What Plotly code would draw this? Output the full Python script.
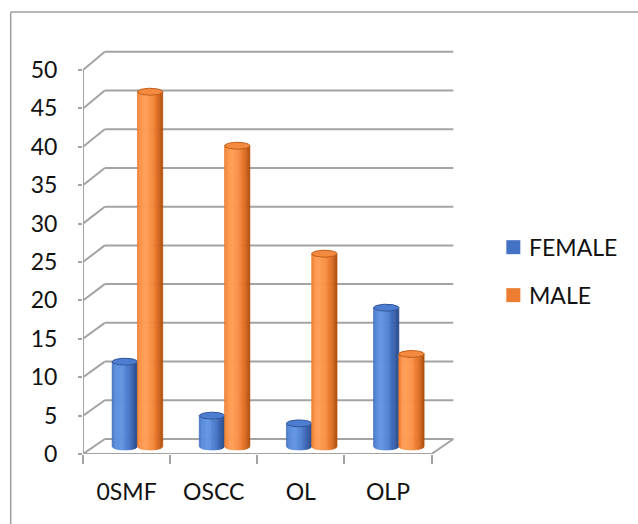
import numpy as np
import plotly.graph_objects as go

# ---- data -------------------------------------------------------------
categories = ["0SMF", "OSCC", "OL", "OLP"]
series_names = ["FEMALE", "MALE"]
female = [11, 4, 3, 18]
male = [46, 39, 25, 12]
y_ticks = list(range(0, 51, 5))

# ---- figure geometry (pixels) ------------------------------------------
W, H = 638, 524
PX_PER_CAT = 87.1          # horizontal pixels per category slot
PX_PER_UNIT = 7.686        # vertical pixels per value unit
X_MAX = 4.35
Y_MAX = 53.0
LEFT = 83.3
ZERO_PY = 454.3
PLOT_W = X_MAX * PX_PER_CAT
PLOT_H = Y_MAX * PX_PER_UNIT
TOP = ZERO_PY - PLOT_H
BOTTOM = H - ZERO_PY
RIGHT = W - LEFT - PLOT_W

# depth of the oblique box, in data units
DEPTH_X = 0.25


def depth_y(v):
    # back wall sits slightly higher for taller values (mild perspective)
    return 1.95 + 0.0086 * v


BAR_HALF = 0.145           # half width of one cylinder (category units)
CAP_RY = 0.45              # vertical radius of the elliptical ends

GRID = "#a3a3a3"
FONT = dict(family="Lato, 'Open Sans', sans-serif", size=23, color="#111111")

palette = {
    "FEMALE": dict(dark="#2a4c8c", base="#4472c4", light="#6294e2",
                   cap="#4d7dd0", rim="#2f5597"),
    "MALE": dict(dark="#b5520f", base="#ed7d31", light="#ff9d55",
                 cap="#f38a3f", rim="#c25c16"),
}


def hex2rgb(h):
    h = h.lstrip("#")
    return np.array([int(h[i:i + 2], 16) for i in (0, 2, 4)], float)


def mix(a, b, t):
    c = hex2rgb(a) * (1 - t) + hex2rgb(b) * t
    return "rgb(%d,%d,%d)" % tuple(np.round(c))


def shade(pal, u):
    # simple lambert shading of a vertical cylinder lit from front-left
    n = np.array([u, np.sqrt(max(0.0, 1 - u * u))])
    light = np.array([-0.45, 1.0])
    light /= np.linalg.norm(light)
    i = 0.3 + 0.7 * max(0.0, float(n @ light))
    if i < 0.78:
        return mix(pal["dark"], pal["base"], (i - 0.3) / 0.48)
    return mix(pal["base"], pal["light"], (i - 0.78) / 0.22)


fig = go.Figure()

N_STRIPS = 22
edges = np.linspace(-1, 1, N_STRIPS + 1)

for s_idx, (name, values) in enumerate(zip(series_names, [female, male])):
    pal = palette[name]
    offset = (-1 if s_idx == 0 else 1) * BAR_HALF
    centers = [i + 0.5 + DEPTH_X / 2 + offset for i in range(len(categories))]
    base_y = depth_y(0) / 2

    # cylinder bodies, drawn as thin shaded vertical strips
    for k in range(N_STRIPS):
        ua, ub = edges[k], edges[k + 1]
        us = np.linspace(ua, ub, 5)
        col = shade(pal, (ua + ub) / 2)
        xs, ys = [], []
        for xc, v in zip(centers, values):
            top_y = v + depth_y(v) / 2
            sag = CAP_RY * np.sqrt(np.clip(1 - us ** 2, 0, 1))
            px = list(xc + BAR_HALF * us) + list(xc + BAR_HALF * us[::-1])
            py = list(top_y - sag) + list(base_y - sag[::-1])
            xs += px + [px[0], None]
            ys += py + [py[0], None]
        fig.add_trace(go.Scatter(
            x=xs, y=ys, mode="lines", fill="toself", fillcolor=col,
            line=dict(color=col, width=0.7), hoverinfo="skip",
            showlegend=False))

    # elliptical tops
    t = np.linspace(0, 2 * np.pi, 60)
    xs, ys = [], []
    for xc, v in zip(centers, values):
        top_y = v + depth_y(v) / 2
        xs += list(xc + BAR_HALF * np.cos(t)) + [None]
        ys += list(top_y + CAP_RY * np.sin(t)) + [None]
    fig.add_trace(go.Scatter(
        x=xs, y=ys, mode="lines", fill="toself", fillcolor=pal["cap"],
        line=dict(color=pal["rim"], width=1), hoverinfo="skip",
        showlegend=False))

# ---- oblique walls: gridlines, floor and front axis --------------------
shapes = []
line_style = dict(color=GRID, width=2)
x_back_end = len(categories) + DEPTH_X
for v in y_ticks:
    yb = v + depth_y(v)
    shapes.append(dict(type="line", xref="x", yref="y", x0=0, y0=v,
                       x1=DEPTH_X, y1=yb, line=line_style, layer="below"))
    shapes.append(dict(type="line", xref="x", yref="y", x0=DEPTH_X, y0=yb,
                       x1=x_back_end, y1=yb, line=line_style, layer="below"))
# floor front edge and right edge
shapes.append(dict(type="line", xref="x", yref="y", x0=0, y0=0,
                   x1=len(categories), y1=0, line=line_style, layer="below"))
shapes.append(dict(type="line", xref="x", yref="y", x0=len(categories), y0=0,
                   x1=x_back_end, y1=depth_y(0), line=line_style,
                   layer="below"))
# front vertical axis
shapes.append(dict(type="line", xref="x", yref="y", x0=0, y0=0,
                   x1=0, y1=y_ticks[-1], line=line_style, layer="below"))


def px_x(px):
    return (px - LEFT) / PLOT_W


def px_y(py):
    return (ZERO_PY - py) / PLOT_H


# outer chart frame
frame = dict(color="#a0a0a0", width=1.5)
shapes.append(dict(type="line", xref="paper", yref="paper",
                   x0=px_x(11), y0=px_y(12), x1=px_x(645), y1=px_y(12),
                   line=frame))
shapes.append(dict(type="line", xref="paper", yref="paper",
                   x0=px_x(11), y0=px_y(12), x1=px_x(11), y1=px_y(530),
                   line=frame))

# legend: colour squares with series names
annotations = []
legend_rows = [247.3, 295.3]
for name, cy in zip(series_names, legend_rows):
    shapes.append(dict(type="rect", xref="paper", yref="paper",
                       x0=px_x(506.5), x1=px_x(520.5),
                       y0=px_y(cy + 7), y1=px_y(cy - 7),
                       fillcolor=palette[name]["base"], line=dict(width=0)))
    annotations.append(dict(xref="paper", yref="paper", x=px_x(527),
                            y=px_y(cy), text=name, showarrow=False,
                            xanchor="left", yanchor="middle", font=FONT))

fig.update_layout(
    width=W, height=H, autosize=False,
    margin=dict(l=LEFT, r=RIGHT, t=TOP, b=BOTTOM, pad=0),
    paper_bgcolor="white", plot_bgcolor="white",
    showlegend=False, shapes=shapes, annotations=annotations,
    font=FONT,
    xaxis=dict(range=[0, X_MAX], showgrid=False, zeroline=False,
               showline=False, tickmode="array",
               tickvals=[i + 0.5 for i in range(len(categories))],
               ticktext=categories, ticks="", tickfont=FONT,
               ticklabelstandoff=22, fixedrange=True,
               minor=dict(tickmode="array",
                          tickvals=list(range(len(categories) + 1)),
                          ticks="outside", ticklen=9, tickwidth=1.5,
                          tickcolor=GRID, showgrid=False)),
    yaxis=dict(range=[0, Y_MAX], showgrid=False, zeroline=False,
               showline=False, tickmode="array", tickvals=y_ticks,
               ticks="outside", ticklen=4, tickwidth=1.5, tickcolor=GRID,
               tickfont=FONT, ticklabelstandoff=16, fixedrange=True),
)

fig.write_html("out.html")
